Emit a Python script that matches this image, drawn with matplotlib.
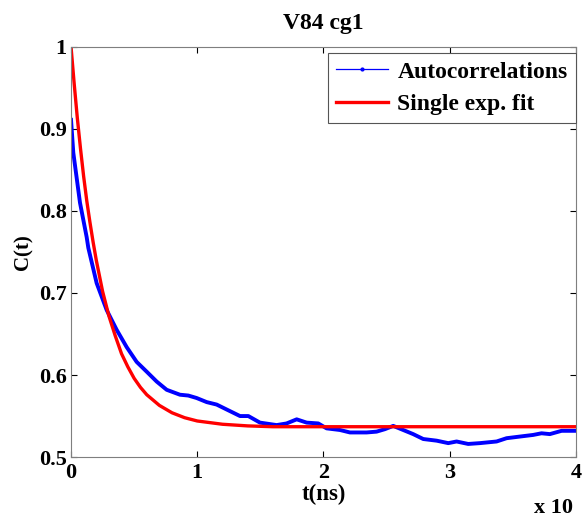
import matplotlib.pyplot as plt
from matplotlib.lines import Line2D

plt.rcParams['font.family'] = ['Liberation Serif', 'DejaVu Serif']
plt.rcParams['font.weight'] = 'bold'

# autocorrelation
t_auto = [0.0, 0.0, 0.018, 0.071, 0.124, 0.137, 0.203, 0.283, 0.362, 0.441, 0.520,
          0.600, 0.679, 0.758, 0.863, 0.929, 0.995, 1.075, 1.154, 1.233, 1.339,
          1.405, 1.497, 1.629, 1.708, 1.788, 1.867, 1.959, 2.025, 2.131, 2.210,
          2.342, 2.421, 2.487, 2.553, 2.632, 2.711, 2.791, 2.897, 2.989, 3.055,
          3.147, 3.240, 3.372, 3.451, 3.556, 3.662, 3.728, 3.794, 3.887, 4.0]
c_auto = [1.0, 0.911, 0.871, 0.810, 0.768, 0.755, 0.712, 0.679, 0.655, 0.634, 0.616,
          0.604, 0.592, 0.582, 0.576, 0.575, 0.572, 0.567, 0.564, 0.558, 0.550,
          0.550, 0.542, 0.539, 0.541, 0.546, 0.542, 0.541, 0.535, 0.533, 0.530,
          0.530, 0.531, 0.534, 0.538, 0.533, 0.528, 0.522, 0.520, 0.517, 0.519,
          0.516, 0.517, 0.519, 0.523, 0.525, 0.527, 0.529, 0.528, 0.532, 0.532]

# single exponential fit
t_fit = [0.0, 0.025, 0.05, 0.075, 0.1, 0.125, 0.15, 0.175, 0.2, 0.25, 0.3, 0.35,
         0.4, 0.45, 0.5, 0.55, 0.6, 0.7, 0.8, 0.9, 1.0, 1.1, 1.2, 1.4, 1.6, 2.0,
         3.0, 4.0]
c_fit = [1.0, 0.955, 0.913, 0.876, 0.842, 0.812, 0.786, 0.762, 0.740, 0.702, 0.672,
         0.648, 0.626, 0.610, 0.596, 0.585, 0.576, 0.563, 0.554, 0.548, 0.544,
         0.542, 0.540, 0.538, 0.537, 0.537, 0.537, 0.537]

yticks = [0.5, 0.6, 0.7, 0.8, 0.9, 1.0]
ylabels = ['0.5', '0.6', '0.7', '0.8', '0.9', '1']
xticks = [0, 1, 2, 3, 4]

fig = plt.figure(figsize=(5.87, 5.20), dpi=100)
ax = fig.add_axes([0.121, 0.121, 0.860, 0.789])

ax.plot(t_auto, c_auto, color='blue', linewidth=0.9)
ax.plot(t_auto[1:], c_auto[1:], color='blue', linewidth=2.8)
ax.plot(t_fit, c_fit, color='red', linewidth=2.4)

ax.set_xlim(0, 4)
ax.set_ylim(0.5, 1.0)
ax.set_xticks(xticks)
ax.set_xticklabels([str(x) for x in xticks])
ax.set_yticks(yticks)
ax.set_yticklabels(ylabels)
ax.tick_params(direction='in', top=True, right=True, labelsize=16, length=4)
ax.tick_params(axis='x', pad=4)
ax.tick_params(axis='y', pad=3)
for s in ax.spines.values():
    s.set_color('#7f7f7f')

ax.set_title('V84 cg1', fontsize=17, fontweight='bold', pad=13)
ax.set_xlabel('t(ns)', fontsize=16.5, fontweight='bold', labelpad=1)
ax.set_ylabel('C(t)', fontsize=15, fontweight='bold', labelpad=4)
fig.text(0.976, 0.014, 'x 10', fontsize=16, fontweight='bold', ha='right', va='baseline')

h1 = Line2D([], [], color='blue', linewidth=0.9, marker='.', markersize=4)
h2 = Line2D([], [], color='red', linewidth=2.4)
leg = ax.legend([h1, h2], ['Autocorrelations', 'Single exp. fit'], loc='upper right',
                bbox_to_anchor=(1.0, 0.985), borderaxespad=0,
                fontsize=17, fancybox=False, edgecolor='#555555', framealpha=1,
                handlelength=2.2, handletextpad=0.4, labelspacing=0.45,
                borderpad=0.35)
leg.get_frame().set_linewidth(0.8)

plt.savefig('out.png', dpi=100)
